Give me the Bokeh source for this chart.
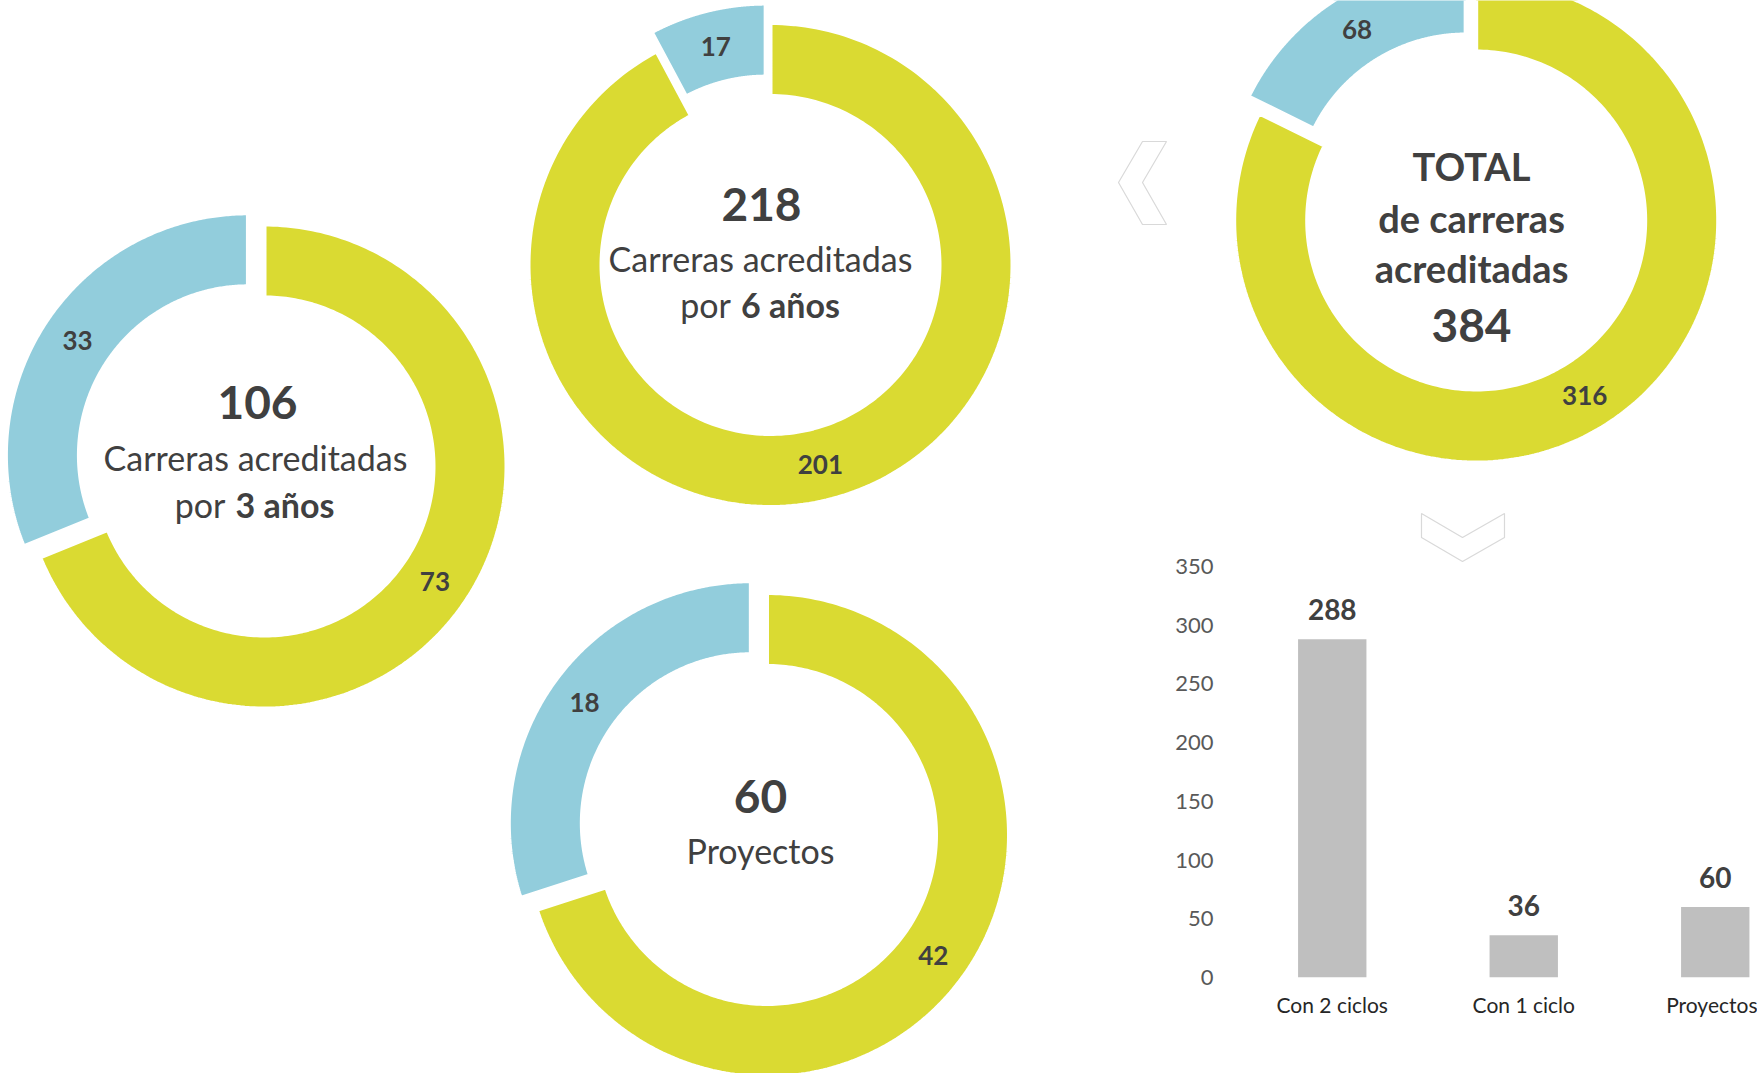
import numpy as np
from bokeh.plotting import figure
from bokeh.models import Range1d, FixedTicker
from bokeh.layouts import row, column
from bokeh.core.properties import value
from bokeh.embed import file_html
from bokeh.resources import INLINE

# ---------------- data ----------------
segment_names = ["Acreditadas", "Otras"]          # green, blue
anos3_values = [73, 33]
anos6_values = [201, 17]
proyectos_values = [42, 18]
total_values = [316, 68]

bar_categories = ["Con 2 ciclos", "Con 1 ciclo", "Proyectos"]
bar_values = [288, 36, 60]
bar_ticks = [0, 50, 100, 150, 200, 250, 300, 350]

# ---------------- style ----------------
GREEN = "#DADA32"
BLUE = "#92CDDC"
TEXT = "#404040"
FONT = value("Lato")
R_OUT, R_IN = 240.0, 171.0
EXPLODE = 20.0
BORDER = 4
W, H = 1757, 1073
SPLIT_X, SPLIT_Y = 1100, 480


def base_fig(x0, x1, y0, y1):
    p = figure(width=int(x1 - x0), height=int(y1 - y0),
               x_range=Range1d(x0, x1), y_range=Range1d(y1, y0),
               x_axis_type=None, y_axis_type=None,
               output_backend="svg", toolbar_location=None, min_border=0)
    p.outline_line_color = None
    p.grid.visible = False
    p.background_fill_color = "white"
    p.frame_align = False
    return p


def ring_piece(cx, cy, a0, a1, off):
    t = np.radians(np.linspace(a0, a1, 240))
    mid = np.radians((a0 + a1) / 2.0)
    dx = off * np.sin(mid)
    dy = -off * np.cos(mid)
    ro = R_OUT + BORDER / 2
    ri = R_IN - BORDER / 2
    xo = cx + dx + ro * np.sin(t)
    yo = cy + dy - ro * np.cos(t)
    xi = cx + dx + ri * np.sin(t[::-1])
    yi = cy + dy - ri * np.cos(t[::-1])
    xs = np.concatenate([xo, xi]).tolist()
    ys = np.concatenate([yo, yi]).tolist()
    rm = (R_OUT + R_IN) / 2
    lx = cx + dx + rm * np.sin(mid)
    ly = cy + dy - rm * np.cos(mid)
    return xs, ys, lx, ly


def donut(p, vals, cx, cy, lab_size):
    total = float(sum(vals))
    colors = [GREEN, BLUE]
    offs = [0.0, EXPLODE]
    start = 0.0
    xs_all, ys_all, lxs, lys = [], [], [], []
    for v, off in zip(vals, offs):
        end = start + 360.0 * v / total
        xs, ys, lx, ly = ring_piece(cx, cy, start, end, off)
        xs_all.append(xs); ys_all.append(ys); lxs.append(lx); lys.append(ly)
        start = end
    p.patches(xs_all, ys_all, fill_color=colors, line_color="white", line_width=BORDER)
    p.text(x=lxs, y=lys, text=[str(v) for v in vals], text_font=FONT,
           text_font_style="bold", text_font_size=lab_size, text_color=TEXT,
           text_align="center", text_baseline="middle")


def txt(p, x, y, s, size, bold=False, align="center"):
    p.text(x=[x], y=[y], text=[s], text_font=FONT,
           text_font_style="bold" if bold else "normal",
           text_font_size=size, text_color=TEXT,
           text_align=align, text_baseline="middle")


# ---------------- left figure: three donuts ----------------
left = base_fig(0, SPLIT_X, 0, H)

# 3 años
donut(left, anos3_values, 264, 466, "26px")
txt(left, 257, 401.5, str(sum(anos3_values)), "46px", bold=True)
txt(left, 255, 456.5, "Carreras acreditadas", "34px")
txt(left, 225, 503.5, "por", "34px", align="right")
txt(left, 235, 503.5, "3 años", "34px", bold=True, align="left")

# 6 años
donut(left, anos6_values, 770, 264.5, "26px")
txt(left, 761, 204, str(sum(anos6_values)), "46px", bold=True)
txt(left, 760, 257.5, "Carreras acreditadas", "34px")
txt(left, 730.5, 304, "por", "34px", align="right")
txt(left, 740.5, 304, "6 años", "34px", bold=True, align="left")

# Proyectos
donut(left, proyectos_values, 766.5, 834.5, "26px")
txt(left, 760, 795.5, str(sum(proyectos_values)), "46px", bold=True)
txt(left, 760, 850, "Proyectos", "34px")

# ---------------- top right: total donut ----------------
top = base_fig(SPLIT_X, W, 0, SPLIT_Y)
donut(top, total_values, 1475.7, 220, "26px")
txt(top, 1471, 165, "TOTAL", "38px", bold=True)
txt(top, 1471, 217, "de carreras", "38px", bold=True)
txt(top, 1471, 267, "acreditadas", "38px", bold=True)
txt(top, 1471, 325, str(sum(total_values)), "46px", bold=True)
# left chevron
top.patch([1142, 1166, 1142, 1166, 1142, 1118], [141, 141, 182, 224, 224, 182],
          fill_color="white", line_color="#D9D9D9", line_width=1.2)

# ---------------- bottom right: bar chart ----------------
FRAME_L, FRAME_R, FRAME_T, FRAME_B = 1236, W, SPLIT_Y, 977
BAND_PX = 191.5
px_per_unit = (977.3 - 566.2) / 350.0
y_top = (FRAME_B - FRAME_T) / px_per_unit
bar_x = [i + 0.5 for i in range(len(bar_categories))]

bar = figure(width=W - SPLIT_X, height=H - SPLIT_Y,
             x_range=Range1d(0, (FRAME_R - FRAME_L) / BAND_PX), y_range=Range1d(0, y_top),
             output_backend="svg", toolbar_location=None,
             min_border_left=FRAME_L - SPLIT_X, min_border_right=W - FRAME_R,
             min_border_top=0, min_border_bottom=H - FRAME_B)
bar.frame_align = False
bar.extra_x_ranges = {"px": Range1d(FRAME_L, FRAME_R)}
bar.extra_y_ranges = {"py": Range1d(FRAME_B, FRAME_T)}
bar.outline_line_color = None
bar.grid.visible = False
bar.vbar(x=bar_x, top=bar_values, width=0.357, fill_color="#BFBFBF", line_color=None)
bar.text(x=bar_x, y=bar_values, text=[str(v) for v in bar_values],
         text_font=FONT, text_font_style="bold", text_font_size="28px",
         text_color=TEXT, text_align="center", text_baseline="middle", y_offset=-30)

bar.yaxis.ticker = FixedTicker(ticks=bar_ticks)
bar.yaxis.axis_line_color = None
bar.yaxis.major_tick_line_color = None
bar.yaxis.minor_tick_line_color = None
bar.yaxis.major_label_standoff = 17
bar.yaxis.major_label_text_font = "Lato"
bar.yaxis.major_label_text_font_size = "22px"
bar.yaxis.major_label_text_color = "#595959"

bar.xaxis.ticker = FixedTicker(ticks=bar_x)
bar.xaxis.major_label_overrides = {x: c for x, c in zip(bar_x, bar_categories)}
bar.xaxis.axis_line_color = None
bar.xaxis.major_tick_line_color = None
bar.xaxis.minor_tick_line_color = None
bar.xaxis.major_label_standoff = 8
bar.xaxis.major_label_text_font = "Lato"
bar.xaxis.major_label_text_font_size = "21px"
bar.xaxis.major_label_text_color = "#262626"

# down chevron
bar.patch([1421, 1462, 1504, 1504, 1462, 1421], [513, 537, 513, 537, 561, 537],
          x_range_name="px", y_range_name="py",
          fill_color="white", line_color="#D9D9D9", line_width=1.2)

layout = row(left, column(top, bar))
open("out.html", "w").write(file_html(layout, INLINE))
